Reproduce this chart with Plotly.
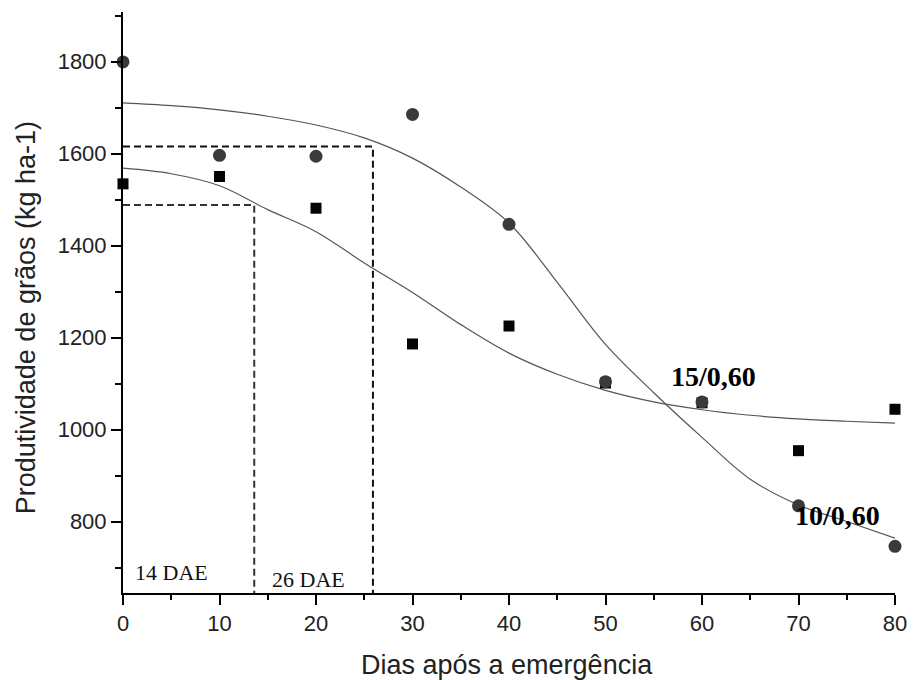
import plotly.graph_objects as go

# Observed data
days = [0, 10, 20, 30, 40, 50, 60, 70, 80]
yield_10_060 = [1799, 1596, 1594, 1685, 1446, 1104, 1060, 834, 746]   # circles
yield_15_060 = [1534, 1550, 1481, 1186, 1225, 1101, 1058, 954, 1044]  # squares

# Fitted curves
curve_x = [0, 5, 10, 15, 20, 25, 30, 35, 40, 45, 50, 55, 60, 65, 70, 75, 80]
curve_10_060 = [1710, 1704, 1695, 1681, 1662, 1634, 1590, 1527, 1449, 1320, 1185,
                1080, 983, 892, 836, 800, 764]
curve_15_060 = [1568, 1556, 1530, 1478, 1430, 1362, 1298, 1228, 1166, 1120, 1085,
                 1060, 1043, 1031, 1023, 1018, 1014]

# Critical periods (dashed guides)
dae_x = [13.6, 25.9]
dae_y = [1488, 1615]
dae_labels = ["14 DAE", "26 DAE"]

x_range = [0, 80]
y_range = [644.6, 1907.6]

fig = go.Figure()

for cy in (curve_10_060, curve_15_060):
    fig.add_trace(go.Scatter(x=curve_x, y=cy, mode="lines", line=dict(color="#555555", width=1.2, shape="spline", smoothing=1.0),
                             showlegend=False, hoverinfo="skip"))

dash_colors = ["#333333", "#111111"]
for i in range(2):
    fig.add_trace(go.Scatter(x=[x_range[0], dae_x[i], dae_x[i]], y=[dae_y[i], dae_y[i], y_range[0]],
                             mode="lines", line=dict(color=dash_colors[i], width=2, dash="7px,4px"),
                             showlegend=False, hoverinfo="skip", cliponaxis=False))

fig.add_trace(go.Scatter(x=days, y=yield_15_060, mode="markers", name="15/0,60",
                         marker=dict(symbol="square", size=11, color="#050505"),
                         cliponaxis=False, showlegend=False))
fig.add_trace(go.Scatter(x=days, y=yield_10_060, mode="markers", name="10/0,60",
                         marker=dict(symbol="circle", size=13, color="#3a3a3a"),
                         cliponaxis=False, showlegend=False))

serif = "Liberation Serif, Times New Roman, serif"
sans = "Liberation Sans, Arial, sans-serif"

fig.add_annotation(x=1.0, y=689, text=dae_labels[0], showarrow=False, xanchor="left", yanchor="middle",
                   font=dict(family=serif, size=22, color="#111"))
fig.add_annotation(x=15.2, y=673, text=dae_labels[1], showarrow=False, xanchor="left", yanchor="middle",
                   font=dict(family=serif, size=22, color="#111"))
fig.add_annotation(x=56.6, y=1115, text="<b>15/0,60</b>", showarrow=False, xanchor="left", yanchor="middle",
                   font=dict(family=serif, size=28, color="#000"))
fig.add_annotation(x=69.4, y=814, text="<b>10/0,60</b>", showarrow=False, xanchor="left", yanchor="middle",
                   font=dict(family=serif, size=28, color="#000"))

# Axis titles placed as annotations
fig.add_annotation(x=512, y=665, xref="paper", yref="paper", text="Dias após a emergência", showarrow=False,
                   font=dict(family=sans, size=27, color="#222"))
fig.add_annotation(x=25, y=318, xref="paper", yref="paper", text="Produtividade de grãos (kg ha-1)",
                   showarrow=False, textangle=-90, font=dict(family=sans, size=27, color="#222"))

L, R, T, B = 123, 14, 12, 87
W, H = 919, 680
pw, ph = W - L - R, H - T - B
for a in fig.layout.annotations:
    if a.xref == "paper":
        a.x = (a.x - L) / pw
        a.y = (H - B - a.y) / ph
        a.xanchor = "center"
        a.yanchor = "middle"

fig.update_layout(
    width=W, height=H,
    margin=dict(l=L, r=R, t=T, b=B),
    paper_bgcolor="white", plot_bgcolor="white",
    showlegend=False,
)
fig.update_xaxes(
    range=x_range, tick0=0, dtick=10, ticks="outside", ticklen=10, tickwidth=2, tickcolor="#000",
    showline=True, linecolor="#000", linewidth=2, showgrid=False, zeroline=False,
    tickfont=dict(family=sans, size=22, color="#222"),
    minor=dict(ticks="outside", ticklen=5, tickwidth=2, tickcolor="#000", dtick=5, tick0=0, showgrid=False),
)
fig.update_yaxes(
    range=y_range, tick0=0, dtick=200, ticks="outside", ticklen=10, tickwidth=2, tickcolor="#000",
    showline=True, linecolor="#000", linewidth=2, showgrid=False, zeroline=False,
    tickfont=dict(family=sans, size=22, color="#222"),
    minor=dict(ticks="outside", ticklen=6, tickwidth=2, tickcolor="#000", dtick=100, tick0=0, showgrid=False),
)

fig.write_html("out.html")
